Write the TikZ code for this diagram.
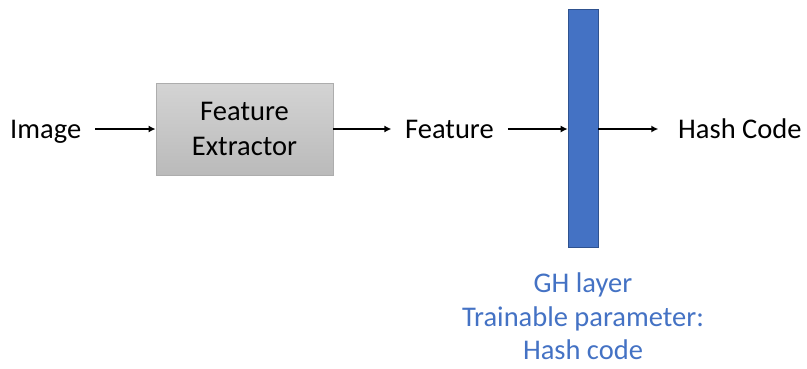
\documentclass[tikz,border=0pt]{standalone}
\usepackage{fontspec}
\setmainfont{Carlito}
\usetikzlibrary{arrows.meta}
\definecolor{ghblue}{HTML}{4472C4}
\definecolor{ghedge}{HTML}{2F528F}
\tikzset{
  label/.style={font=\fontsize{28.5}{34}\selectfont, inner sep=0pt, text=black, anchor=base west},
  flow/.style={line width=1.7pt, -{Latex[length=7pt,width=7pt]}},
  extractor/.style={draw=black!32, line width=0.8pt, top color=black!17, bottom color=black!27,
    minimum width=177pt, minimum height=92pt, align=center, inner sep=0pt,
    font=\fontsize{28.5}{35}\selectfont},
  ghbar/.style={draw=ghedge, line width=0.6pt, fill=ghblue, minimum width=30pt,
    minimum height=238pt, inner sep=0pt},
  note/.style={text=ghblue, align=center, inner sep=0pt, font=\fontsize{28.5}{33.5}\selectfont}
}
\begin{document}
\begin{tikzpicture}[x=1pt,y=-1pt]
  \useasboundingbox (0,0) rectangle (807,368);
  % pipeline row, all labels on one baseline
  \node[label] (img) at (10,138) {Image};
  \node[extractor] (fe) at (244.5,129) {Feature\\Extractor};
  \node[label] (feat) at (405,138) {Feature};
  \node[ghbar] (gh) at (583,128) {};
  \node[label] (hash) at (678,138) {Hash Code};
  % connectors
  \draw[flow] (fe.west -| img.east) ++(14pt,0) coordinate (a0) -- (fe.west);
  \draw[flow] (fe.east) -- ++(58pt,0) coordinate (a1);
  \draw[flow] (fe.east -| feat.east) ++(14pt,0) coordinate (a2) -- (gh.west |- a2);
  \draw[flow] (gh.east |- a2) -- ++(60pt,0) coordinate (a3);
  % caption under the layer
  \node[note, anchor=north] (cap) at (583,273) {GH layer\\Trainable parameter:\\Hash code};
\end{tikzpicture}
\end{document}
